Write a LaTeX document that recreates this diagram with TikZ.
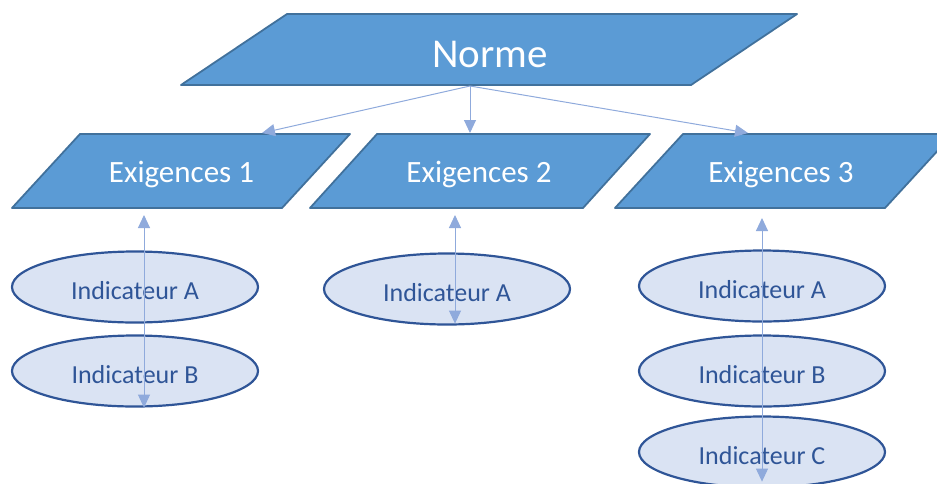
\documentclass[tikz,border=0pt]{standalone}
\usepackage{fontspec}
\setmainfont{Carlito}
\usetikzlibrary{shapes.geometric,arrows.meta}
\definecolor{normfill}{HTML}{5B9BD5}
\definecolor{normedge}{HTML}{41719C}
\definecolor{indfill}{HTML}{DAE3F3}
\definecolor{indedge}{HTML}{2F5597}
\definecolor{linkblue}{HTML}{8FAADC}

\begin{document}
\begin{tikzpicture}[x=1pt,y=-1pt,
    para/.style={draw=normedge,fill=normfill,line width=1.8pt,line join=round},
    label/.style={text=white,inner sep=0pt,anchor=base},
    indic/.style={ellipse,draw=indedge,fill=indfill,line width=2.2pt,text=indedge,inner sep=0pt,minimum width=246pt,minimum height=71pt,text height=24pt,text depth=0pt,font=\fontsize{26}{30}\selectfont},
    link/.style={draw=linkblue,line width=1pt,-{Triangle[length=13pt,width=12pt]}},
    both/.style={link,{Triangle[length=13pt,width=12pt]}-{Triangle[length=13pt,width=12pt]}}]
    \useasboundingbox (0,0) rectangle (937,483);
    % parallelograms
    \path[para] (181,85) -- (287,14) -- (797,14) -- (691,85) -- cycle;
    \path[para] (12,208) -- (80,134) -- (350,134) -- (282,208) -- cycle;
    \path[para] (310,208) -- (377,134) -- (650,134) -- (583,208) -- cycle;
    \path[para] (615,208) -- (683,134) -- (953,134) -- (885,208) -- cycle;
    \node[label,font=\fontsize{41}{48}\selectfont] (norme) at (490,67) {Norme};
    \node[label,font=\fontsize{31}{36}\selectfont] (ex1) at (181.5,182) {Exigences 1};
    \node[label,font=\fontsize{31}{36}\selectfont] (ex2) at (479,182) {Exigences 2};
    \node[label,font=\fontsize{31}{36}\selectfont] (ex3) at (781,182) {Exigences 3};
    % indicateurs
    \node[indic] (ia1) at (135,287) {Indicateur A};
    \node[indic] (ib1) at (135,371) {Indicateur B};
    \node[indic] (ia2) at (447,289) {Indicateur A};
    \node[indic] (ia3) at (762,286) {Indicateur A};
    \node[indic] (ib3) at (762,371) {Indicateur B};
    \node[indic] (ic3) at (762,452) {Indicateur C};
    \coordinate (src) at (470,86);
    \coordinate (t1) at (262,133);
    \coordinate (t2) at (470,133);
    \coordinate (t3) at (748,133);
    \draw[link] (src) -- (t1);
    \draw[link] (src) -- (t2);
    \draw[link] (src) -- (t3);
    \draw[both] (144,215) -- ([xshift=9pt]ib1.south);
    \draw[both] (455,215) -- ([xshift=8pt,yshift=2pt]ia2.south);
    \draw[both] (762,218) -- ([yshift=7pt]ic3.south);
\end{tikzpicture}
\end{document}
